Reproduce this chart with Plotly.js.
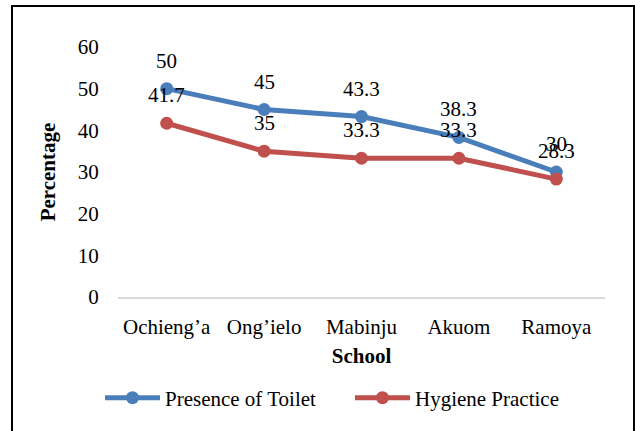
<!DOCTYPE html>
<html>
<head>
<meta charset="utf-8">
<script src="https://cdn.plot.ly/plotly-3.0.1.min.js"></script>
<style>
  html, body { margin: 0; padding: 0; background: #fff; }
  #wrap { position: relative; width: 635px; height: 431px; }
  #chart { width: 635px; height: 431px; }
  #frame { position: absolute; left: 11px; top: 5px; width: 620px; height: 440px;
           border: 2px solid #000; pointer-events: none; }
</style>
</head>
<body>
<div id="wrap">
  <div id="chart"></div>
  <div id="frame"></div>
</div>
<script>
const schools = ["Ochieng\u2019a", "Ong\u2019ielo", "Mabinju", "Akuom", "Ramoya"];
const toilet = [50, 45, 43.3, 38.3, 30];
const hygiene = [41.7, 35, 33.3, 33.3, 28.3];
const seriesNames = ["Presence of Toilet", "Hygiene Practice"];
const yTicks = [0, 10, 20, 30, 40, 50, 60];

const blue = "#4A7EBB";
const red = "#C0504D";
const fontFam = "Liberation Serif, Times New Roman, serif";

const traces = [
  { x: schools, y: toilet, name: seriesNames[0], type: "scatter", mode: "lines+markers",
    line: { color: blue, width: 5 }, marker: { color: blue, size: 13 } },
  { x: schools, y: hygiene, name: seriesNames[1], type: "scatter", mode: "lines+markers",
    line: { color: red, width: 5 }, marker: { color: red, size: 13 } }
];

const annotations = [];
[toilet, hygiene].forEach(vals => {
  vals.forEach((v, i) => {
    annotations.push({ x: schools[i], y: v, xref: "x", yref: "y", text: String(v),
      showarrow: false, yshift: 28, font: { family: fontFam, size: 21, color: "#000" } });
  });
});

const layout = {
  width: 635, height: 431,
  margin: { l: 118, r: 30, t: 47, b: 134 },
  paper_bgcolor: "#fff", plot_bgcolor: "#fff",
  font: { family: fontFam, size: 21, color: "#000" },
  showlegend: true,
  legend: { orientation: "h", x: -0.037, xanchor: "left", y: -0.404, yanchor: "middle",
            font: { family: fontFam, size: 21, color: "#000" }, itemwidth: 55,
            entrywidth: 180, entrywidthmode: "pixels", tracegroupgap: 0 },
  xaxis: { type: "category", range: [-0.5, 4.5], showgrid: false, zeroline: false,
           showline: true, linecolor: "#D9D9D9", linewidth: 2,
           ticks: "outside", ticklen: 10, tickcolor: "rgba(0,0,0,0)",
           title: { text: "<b>School</b>", standoff: 10, font: { family: fontFam, size: 21 } },
           automargin: false },
  yaxis: { range: [0, 60], tickvals: yTicks, showgrid: false, zeroline: false, showline: false,
           ticks: "outside", ticklen: 14, tickcolor: "rgba(0,0,0,0)",
           title: { text: "<b>Percentage</b>", standoff: 16, font: { family: fontFam, size: 21 } },
           automargin: false },
  annotations: annotations
};

Plotly.newPlot("chart", traces, layout, { displayModeBar: false, staticPlot: true });
</script>
</body>
</html>
